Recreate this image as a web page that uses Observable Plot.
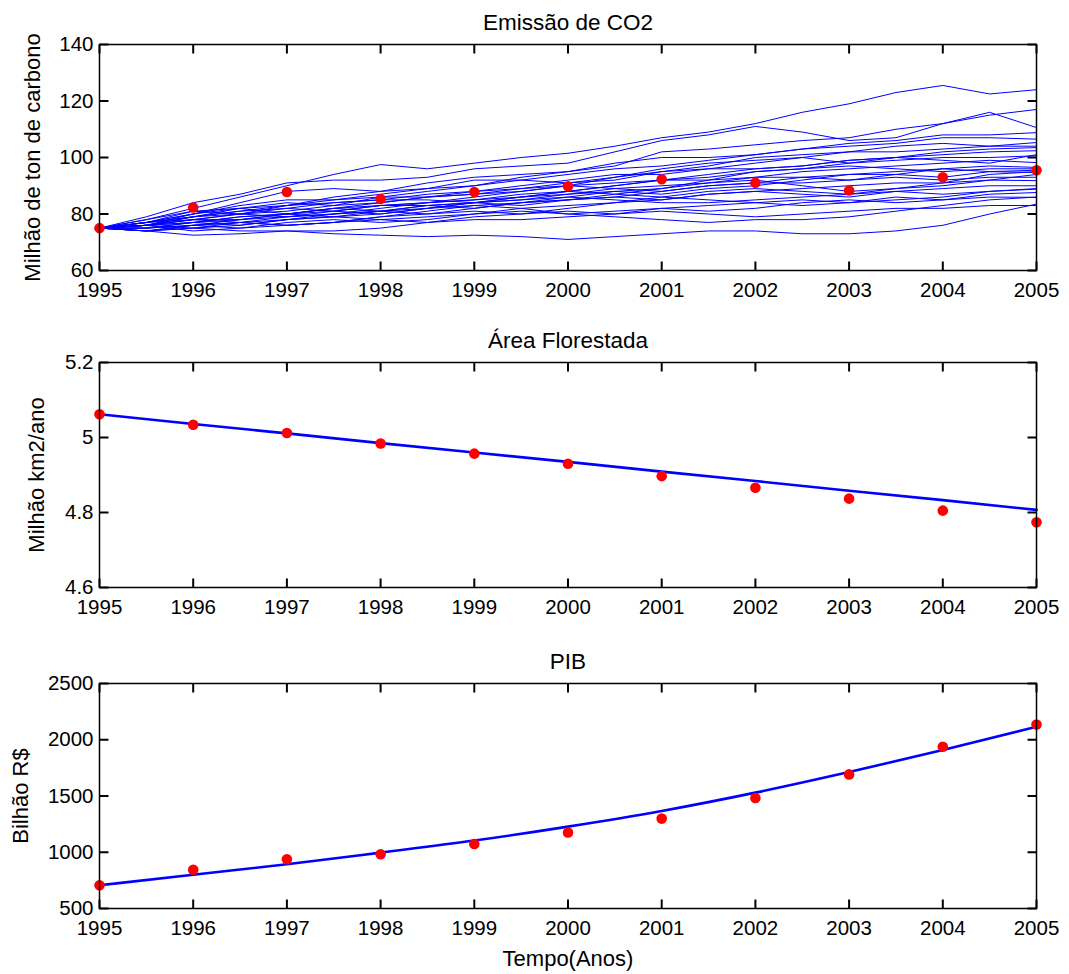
<!DOCTYPE html>
<html>
<head>
<meta charset="utf-8">
<script src="https://cdn.jsdelivr.net/npm/d3@7"></script>
<script src="https://cdn.jsdelivr.net/npm/@observablehq/plot@0.6"></script>
<style>
  html, body { margin: 0; padding: 0; background: #ffffff; }
  #chart { width: 1069px; }
  #chart svg { display: block; }
</style>
</head>
<body>
<div id="chart"></div>
<script>
// ---------- Data ----------
const years = [1995, 1996, 1997, 1998, 1999, 2000, 2001, 2002, 2003, 2004, 2005];

// CO2 emission (observed, red dots)
const co2Observed = [75, 82.3, 87.8, 85.3, 87.8, 89.8, 92.3, 91.1, 88.3, 93, 95.5];

// Simulated CO2 paths (blue lines), sampled every half year
const co2Times = [1995, 1995.5, 1996, 1996.5, 1997, 1997.5, 1998, 1998.5, 1999, 1999.5,
                  2000, 2000.5, 2001, 2001.5, 2002, 2002.5, 2003, 2003.5, 2004, 2004.5, 2005];
const co2Paths = [
  [75, 78, 82, 86, 90, 94, 97.5, 96, 98, 100, 101.5, 104, 107, 109, 112, 116, 119, 123, 125.5, 122.5, 124],
  [75, 79, 84, 87, 91, 92, 92, 93, 96, 97, 98, 102, 106, 108, 111, 109, 106, 107, 112, 116, 110.6],
  [75, 77, 80, 84, 88, 89, 88, 91, 93, 94, 95, 97, 102, 103, 104.5, 106, 107, 110, 112, 115, 117],
  [75, 76, 79, 82, 83, 85, 87, 89, 90, 93, 95, 98, 100, 100, 101, 103, 105, 106, 108, 108, 108.8],
  [75, 77, 81, 82, 84, 83, 86, 88, 90, 92, 94, 96, 97, 99, 101, 103, 104, 105, 107, 107, 106.5],
  [75, 76, 78, 80, 83, 86, 88, 89, 92, 92, 91, 92, 95, 97, 100, 101, 102, 104, 105, 104, 105.3],
  [75, 78, 81, 80, 81, 83, 84, 86, 87, 89, 90, 93, 96, 98, 99, 100, 98, 100, 102, 103, 103.5],
  [75, 76, 77, 79, 80, 82, 83, 84, 85, 86, 88, 90, 92, 94, 96, 97, 99, 100, 101, 102, 102.4],
  [75, 75, 77, 78, 79, 80, 81, 83, 84, 86, 87, 88, 89, 92, 95, 96, 98, 99, 100, 100, 100.6],
  [75, 77, 79, 81, 82, 81, 80, 82, 84, 85, 87, 89, 90, 91, 93, 95, 96, 97, 98, 99, 98.2],
  [75, 76, 78, 78, 80, 82, 81, 83, 82, 84, 86, 88, 87, 89, 90, 92, 94, 95, 96, 97, 96.5],
  [75, 74, 76, 78, 80, 79, 81, 80, 82, 84, 85, 86, 88, 90, 91, 93, 92, 94, 96, 95, 95.5],
  [75, 77, 79, 80, 79, 80, 82, 84, 86, 88, 90, 91, 92, 92, 93, 93, 94, 94, 93, 95, 94.7],
  [75, 76, 80, 83, 85, 85, 86, 86, 87, 88, 90, 89, 88, 90, 91, 91, 92, 93, 92, 93, 93],
  [75, 75, 76, 77, 78, 79, 78, 79, 80, 82, 83, 84, 85, 87, 88, 89, 90, 91, 91, 92, 91.8],
  [75, 74, 75, 77, 76, 77, 79, 80, 81, 80, 82, 84, 86, 88, 89, 88, 87, 88, 89, 90, 90],
  [75, 77, 78, 80, 82, 84, 85, 85, 84, 83, 85, 86, 85, 87, 88, 87, 86, 88, 87, 88, 88.8],
  [75, 75, 76, 75, 77, 78, 77, 78, 80, 81, 80, 81, 82, 83, 84, 85, 84, 86, 85, 87, 87.6],
  [75, 76, 74, 75, 76, 77, 78, 77, 79, 80, 81, 80, 82, 81, 82, 84, 85, 84, 85, 86, 85.9],
  [75, 74, 72.5, 73, 74, 74, 75, 77, 78, 78, 79, 80, 81, 80, 79, 80, 81, 82, 82, 83, 83],
  [75, 74, 75, 74, 74, 73, 72.5, 72, 72.5, 72, 71, 72, 73, 74, 74, 73, 73, 74, 76, 80, 83.5],
  [75, 76, 78, 77, 76, 77, 79, 81, 83, 82, 80, 79, 78, 77, 78, 78, 79, 81, 83, 85, 86],
  [75, 77, 80, 82, 80, 81, 83, 84, 85, 87, 88, 90, 92, 93, 95, 96, 97, 96, 95, 96, 96],
  [75, 76, 79, 81, 83, 84, 85, 87, 88, 89, 91, 93, 95, 96, 96, 97, 99, 100, 99, 98, 101],
  [75, 75, 77, 79, 80, 82, 84, 86, 88, 90, 92, 94, 94, 96, 98, 100, 102, 102, 103, 104, 104],
  [75, 76, 77, 76, 78, 80, 81, 82, 84, 85, 86, 85, 84, 84, 85, 86, 87, 89, 90, 92, 94],
  [75, 74, 76, 77, 79, 81, 83, 83, 84, 86, 88, 87, 86, 85, 84, 83, 84, 85, 86, 88, 89],
  [75, 76, 75, 76, 78, 79, 80, 82, 83, 84, 85, 87, 89, 91, 92, 90, 88, 89, 91, 94, 95]
];

// Forested area
const forestObserved = [5.062, 5.034, 5.012, 4.984, 4.957, 4.930, 4.897, 4.866, 4.837, 4.805, 4.774];
const forestModel    = [5.062, 5.036, 5.011, 4.985, 4.960, 4.935, 4.909, 4.884, 4.858, 4.833, 4.807];

// GDP (PIB)
const pibObserved = [706, 845, 938, 982, 1074, 1175, 1299, 1482, 1692, 1938, 2136];
const pibModel    = [706, 800, 893, 997, 1104, 1228, 1367, 1530, 1713, 1908, 2115];

// Tick labels
const co2Ticks = [60, 80, 100, 120, 140];
const forestTicks = [4.6, 4.8, 5, 5.2];
const pibTicks = [500, 1000, 1500, 2000, 2500];

// Texts
const titles = ["Emissão de CO2", "Área Florestada", "PIB"];
const yLabels = ["Milhão de ton de carbono", "Milhão km2/ano", "Bilhão R$"];
const xLabel = "Tempo(Anos)";

// ---------- Build ----------
const W = 1069, ML = 99, MR = 33;
const FW = W - ML - MR;
const FONT = "'Liberation Sans', Arial, Helvetica, sans-serif";
const BLUE = "#0000ff", RED = "#ff0000";
const TL = 9; // inward tick length in pixels

function panel({height, marginTop, marginBottom, yDomain, yTicks, title, yLabel, labelDx, marks, extra = []}) {
  const FH = height - marginTop - marginBottom;
  const [y0, y1] = yDomain;
  const xDomain = [1995, 2005];
  const dyT = (y1 - y0) * TL / FH;
  const dxT = (xDomain[1] - xDomain[0]) * TL / FW;
  // tick segments (inside the box, on all four sides)
  const tickSegs = [
    ...years.map(t => ({xa: t, xb: t, ya: y0, yb: y0 + dyT})),
    ...years.map(t => ({xa: t, xb: t, ya: y1, yb: y1 - dyT})),
    ...yTicks.map(v => ({xa: xDomain[0], xb: xDomain[0] + dxT, ya: v, yb: v})),
    ...yTicks.map(v => ({xa: xDomain[1], xb: xDomain[1] - dxT, ya: v, yb: v}))
  ];
  return Plot.plot({
    width: W, height, marginLeft: ML, marginRight: MR, marginTop, marginBottom,
    style: {fontFamily: FONT, fontSize: "20.5px", background: "#ffffff", color: "#000", overflow: "visible"},
    x: {domain: xDomain},
    y: {domain: yDomain},
    marks: [
      Plot.link(tickSegs, {x1: "xa", x2: "xb", y1: "ya", y2: "yb", stroke: "#000", strokeWidth: 2}),
      // tick labels
      Plot.axisX({anchor: "bottom", ticks: years, tickSize: 0, tickPadding: 12, tickFormat: d => String(d), label: null, fill: "#000"}),
      Plot.axisY({anchor: "left", ticks: yTicks, tickSize: 0, tickPadding: 6, tickFormat: d => String(d), label: null, fill: "#000"}),
      ...marks,
      Plot.frame({stroke: "#000", strokeWidth: 1.5}),
      Plot.text([title], {frameAnchor: "top", dy: -15, lineAnchor: "bottom", textAnchor: "middle", text: d => d, fontSize: 22.5, fill: "#000"}),
      Plot.text([yLabel], {frameAnchor: "left", rotate: -90, dx: labelDx, lineAnchor: "bottom", textAnchor: "middle", text: d => d, fontSize: 22, fill: "#000"}),
      ...extra
    ]
  });
}

const co2Rows = co2Paths.flatMap((path, s) => path.map((v, i) => ({t: co2Times[i], v, s})));

const p1 = panel({
  height: 316, marginTop: 44, marginBottom: 46,
  yDomain: [60, 140], yTicks: co2Ticks,
  title: titles[0], yLabel: yLabels[0], labelDx: -60,
  marks: [
    Plot.line(co2Rows, {x: "t", y: "v", z: "s", stroke: BLUE, strokeWidth: 1}),
    Plot.dot(years, {x: d => d, y: (d, i) => co2Observed[i], r: 5.3, fill: RED, stroke: "none"})
  ]
});

const p2 = panel({
  height: 320, marginTop: 46, marginBottom: 49,
  yDomain: [4.6, 5.2], yTicks: forestTicks,
  title: titles[1], yLabel: yLabels[1], labelDx: -56,
  marks: [
    Plot.line(years, {x: d => d, y: (d, i) => forestModel[i], stroke: BLUE, strokeWidth: 2.6}),
    Plot.dot(years, {x: d => d, y: (d, i) => forestObserved[i], r: 5.3, fill: RED, stroke: "none"})
  ]
});

const p3 = panel({
  height: 338, marginTop: 47, marginBottom: 66,
  yDomain: [500, 2500], yTicks: pibTicks,
  title: titles[2], yLabel: yLabels[2], labelDx: -72,
  marks: [
    Plot.line(years, {x: d => d, y: (d, i) => pibModel[i], stroke: BLUE, strokeWidth: 2.6, curve: "monotone-x"}),
    Plot.dot(years, {x: d => d, y: (d, i) => pibObserved[i], r: 5.3, fill: RED, stroke: "none"})
  ],
  extra: [
    Plot.text([xLabel], {frameAnchor: "bottom", dy: 57, lineAnchor: "bottom", textAnchor: "middle", text: d => d, fontSize: 22, fill: "#000"})
  ]
});

const root = document.getElementById("chart");
root.append(p1, p2, p3);
</script>
</body>
</html>
